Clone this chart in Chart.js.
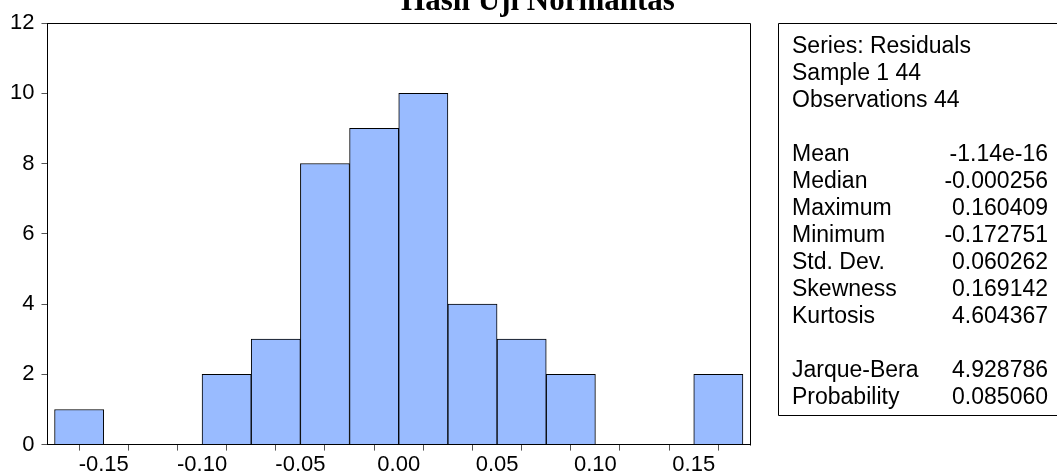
<!DOCTYPE html>
<html>
<head>
<meta charset="utf-8">
<script src="https://cdn.jsdelivr.net/npm/chart.js@4.4.1/dist/chart.umd.min.js"></script>
<style>
  html, body { margin: 0; padding: 0; background: #ffffff; }
  #wrap { width: 1057px; height: 473px; position: relative; }
</style>
</head>
<body>
<div id="wrap"><canvas id="hist"></canvas></div>
<script>
// Histogram of residuals: bin centres (width 0.025) and frequencies
const binCenters = [-0.1625, -0.1375, -0.1125, -0.0875, -0.0625, -0.0375, -0.0125,
                     0.0125,  0.0375,  0.0625,  0.0875,  0.1125,  0.1375,  0.1625];
const binCounts  = [1, 0, 0, 2, 3, 8, 9, 10, 4, 3, 2, 0, 0, 2];

// Axis ticks
const xTickValues = [-0.175, -0.15, -0.125, -0.10, -0.075, -0.05, -0.025, 0,
                      0.025, 0.05, 0.075, 0.10, 0.125, 0.15, 0.175];
const xLabelValues = [-0.15, -0.10, -0.05, 0, 0.05, 0.10, 0.15];
const yTickValues = [0, 2, 4, 6, 8, 10, 12];

// Descriptive statistics panel
const titleText = 'Hasil Uji Normalitas';
const headerLines = ['Series: Residuals', 'Sample 1 44', 'Observations 44'];
const statNames  = ['Mean', 'Median', 'Maximum', 'Minimum', 'Std. Dev.', 'Skewness', 'Kurtosis'];
const statValues = ['-1.14e-16', '-0.000256', '0.160409', '-0.172751', '0.060262', '0.169142', '4.604367'];
const testNames  = ['Jarque-Bera', 'Probability'];
const testValues = ['4.928786', '0.085060'];

const FONT = '"Liberation Sans", Arial, sans-serif';

const points = binCenters.map((c, i) => ({ x: c, y: binCounts[i] }));

// Frame around the plot, title and the statistics box
const decorations = {
  id: 'decorations',
  afterDraw(chart) {
    const { ctx, chartArea: a } = chart;
    ctx.save();
    // plot frame (top and right sides; left/bottom are the axis borders)
    ctx.strokeStyle = '#000';
    ctx.lineWidth = 1;
    ctx.beginPath();
    ctx.moveTo(Math.round(a.left) + 0.5, Math.round(a.top) + 0.5);
    ctx.lineTo(Math.round(a.right) + 0.5, Math.round(a.top) + 0.5);
    ctx.lineTo(Math.round(a.right) + 0.5, Math.round(a.bottom) + 0.5);
    ctx.stroke();

    // title
    ctx.fillStyle = '#000';
    ctx.font = 'bold 31px "Liberation Serif", "Times New Roman", serif';
    ctx.textAlign = 'center';
    ctx.textBaseline = 'alphabetic';
    ctx.fillText(titleText, 538, 10);

    // statistics box
    const boxLeft = 778.5, boxTop = 23.5, boxBottom = 415.5;
    ctx.beginPath();
    ctx.moveTo(1070, boxTop);
    ctx.lineTo(boxLeft, boxTop);
    ctx.lineTo(boxLeft, boxBottom);
    ctx.lineTo(1070, boxBottom);
    ctx.stroke();

    ctx.font = '23px ' + FONT;
    const textLeft = 792, valueRight = 1048, firstBase = 53, step = 27;
    const rows = [];
    headerLines.forEach(t => rows.push([t, '']));
    rows.push(['', '']);
    statNames.forEach((n, i) => rows.push([n, statValues[i]]));
    rows.push(['', '']);
    testNames.forEach((n, i) => rows.push([n, testValues[i]]));
    rows.forEach((r, k) => {
      const y = firstBase + step * k;
      ctx.textAlign = 'left';
      ctx.fillText(r[0], textLeft, y);
      if (r[1]) {
        ctx.textAlign = 'right';
        ctx.fillText(r[1], valueRight, y);
      }
    });
    ctx.restore();
  }
};

new Chart(document.getElementById('hist'), {
  type: 'bar',
  data: {
    datasets: [{
      data: points,
      backgroundColor: 'rgb(153,187,255)',
      borderColor: '#000',
      borderWidth: 1,
      borderSkipped: 'start',
      categoryPercentage: 1.0,
      barPercentage: 1.0
    }]
  },
  options: {
    responsive: true,
    maintainAspectRatio: false,
    animation: false,
    devicePixelRatio: 1,
    layout: { padding: { top: 23, right: 307, bottom: -6, left: 3 } },
    plugins: {
      legend: { display: false },
      tooltip: { enabled: false },
      title: { display: false }
    },
    scales: {
      x: {
        type: 'linear',
        offset: false,
        min: -0.1786,
        max: 0.1786,
        afterBuildTicks(scale) {
          scale.ticks = xTickValues.map(v => ({ value: v }));
        },
        ticks: {
          autoSkip: false,
          maxRotation: 0,
          padding: 1,
          color: '#000',
          font: { family: FONT, size: 22 },
          callback(value) {
            const hit = xLabelValues.some(v => Math.abs(v - value) < 1e-9);
            return hit ? Number(value).toFixed(2) : '';
          }
        },
        grid: { drawOnChartArea: false, drawTicks: true, tickLength: 6, tickColor: '#555', lineWidth: 1 },
        border: { display: true, color: '#000', width: 1 }
      },
      y: {
        min: 0,
        max: 12,
        afterBuildTicks(scale) {
          scale.ticks = yTickValues.map(v => ({ value: v }));
        },
        ticks: {
          padding: 7,
          color: '#000',
          font: { family: FONT, size: 22 }
        },
        grid: { drawOnChartArea: false, drawTicks: true, tickLength: 6, tickColor: '#555', lineWidth: 1 },
        border: { display: true, color: '#000', width: 1 }
      }
    }
  },
  plugins: [decorations]
});
</script>
</body>
</html>
